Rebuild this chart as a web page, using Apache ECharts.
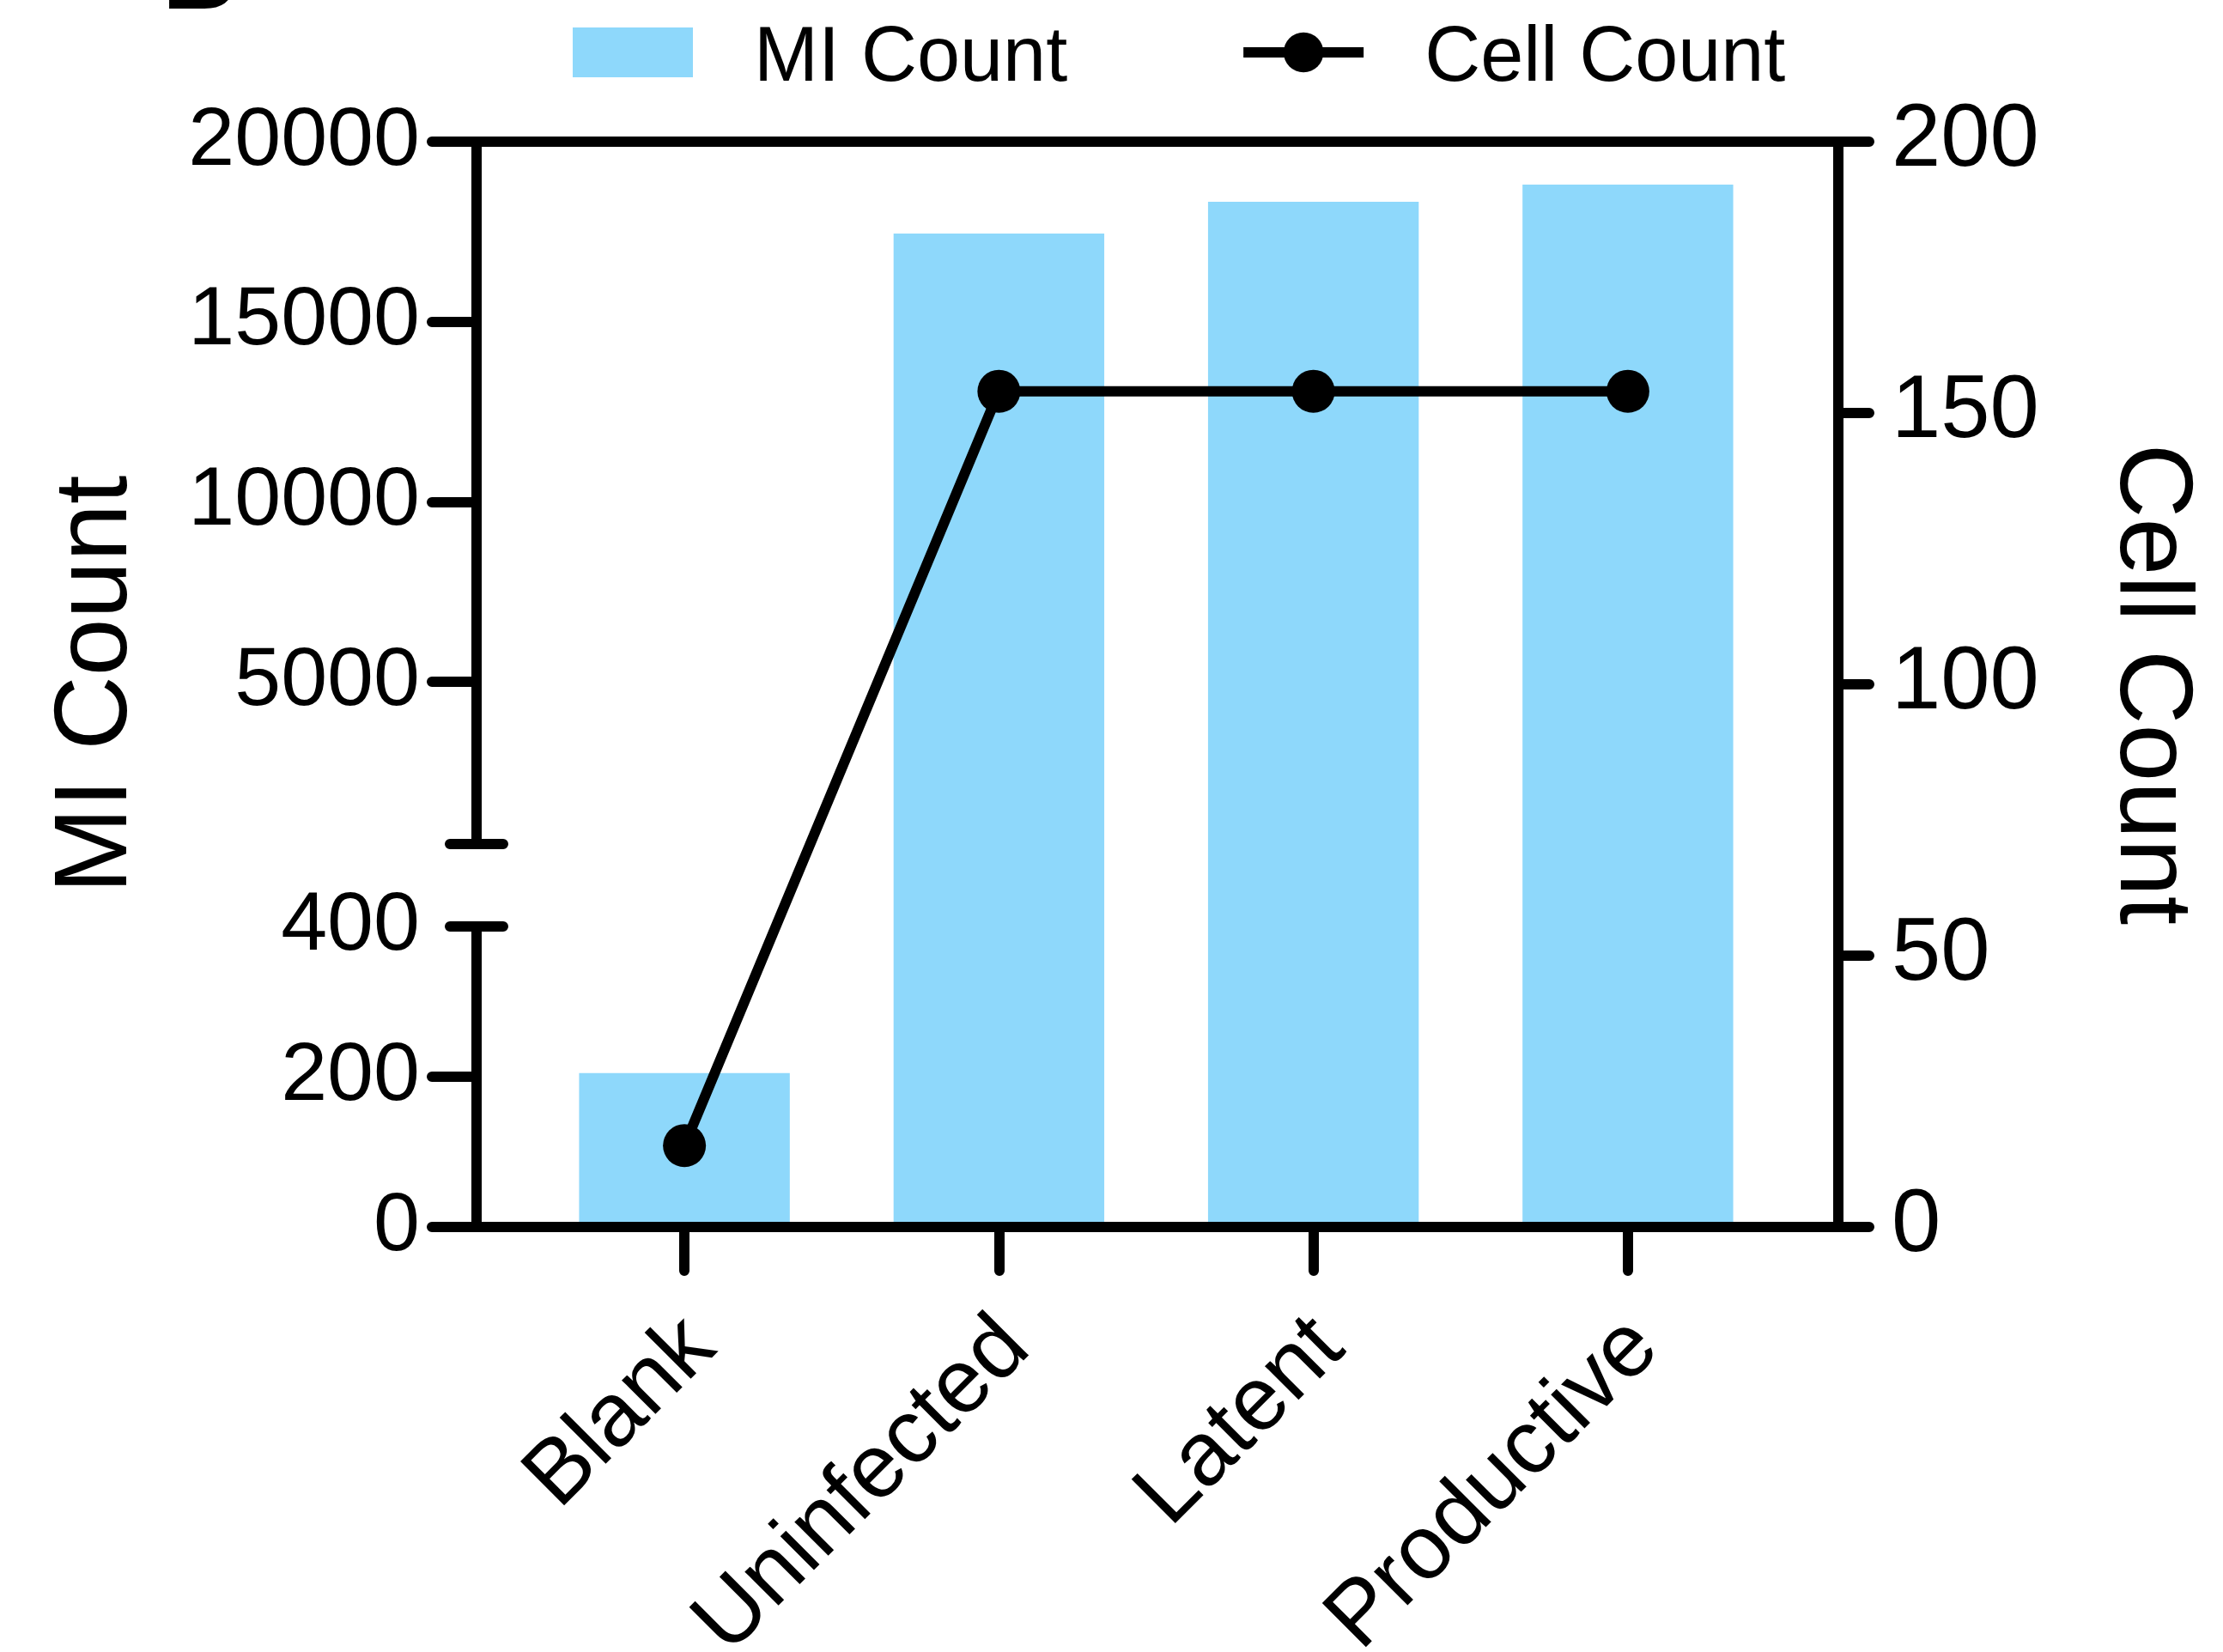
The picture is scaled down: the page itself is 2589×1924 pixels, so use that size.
<!DOCTYPE html>
<html>
<head>
<meta charset="utf-8">
<script src="https://cdn.jsdelivr.net/npm/echarts@6/dist/echarts.min.js"></script>
<style>
html,body{margin:0;padding:0;background:#fff;}
#chart{width:2589px;height:1924px;}
</style>
</head>
<body>
<div id="chart"></div>
<script>
// data
var categories = ['Blank', 'Uninfected', 'Latent', 'Productive'];
var miCount = [205, 17450, 18330, 18810];
var cellCount = [15, 154, 154, 154];
// left axis is broken: 0-400 below, 500-20000 above
var lowTicks = [0, 200];
var lowLabels = [0, 200, 400];
var highTicks = [5000, 10000, 15000, 20000];
var breakMarks = [400, 500];

var FONT = 'Liberation Sans, Arial, Helvetica, sans-serif';
var INK = '#000';
var BAR = '#8ed8fb';

var line12 = {color: INK, width: 12, cap: 'round'};

function plain(v){
	return String(v);
}
function hiddenCat(gi){
	return {gridIndex: gi, type: 'category', data: categories, show: false};
}
// break marks = ticks on both sides of the (invisible) gap axis
function breakAxis(inside){
	return {
		gridIndex: 2, type: 'value', position: 'left', offset: 59,
		min: 400, max: 500,
		axisLine: {show: false, onZero: false},
		axisTick: {show: true, customValues: breakMarks, inside: inside, length: 31, lineStyle: line12},
		axisLabel: {show: false},
		splitLine: {show: false}, z: 10
	};
}

var myChart = echarts.init(document.getElementById('chart'));
var options = {
	backgroundColor: '#fff',
	animation: false,
	textStyle: {fontFamily: FONT, color: INK},
	legend: {
		data: [
			{name: 'MI Count', icon: 'rect'},
			{name: 'Cell Count', lineStyle: {width: 12, color: INK}}
		],
		left: 667, top: 24, padding: 0,
		itemWidth: 140, itemHeight: 58, itemGap: 199,
		selectedMode: false,
		formatter: '{t|{name}}',
		textStyle: {
			fontSize: 90, color: INK, fontFamily: FONT,
			rich: {t: {fontSize: 90, color: INK, fontFamily: FONT, padding: [16, 0, 0, 66]}}
		}
	},
	graphic: [{
		type: 'text', x: 189, y: -23,
		style: {text: 'B', fontSize: 120, fontWeight: 'bold', fontFamily: FONT, fill: INK, verticalAlign: 'middle', align: 'left'}
	}],
	grid: [
		{left: 614, right: 510, top: 165, bottom: 495, outerBoundsMode: 'none'},  // line + x labels + right axis
		{left: 614, right: 510, top: 165, bottom: 941, outerBoundsMode: 'none'},  // upper segment
		{left: 614, right: 510, top: 983, bottom: 845, outerBoundsMode: 'none'},  // gap
		{left: 614, right: 510, top: 1079, bottom: 495, outerBoundsMode: 'none'}, // lower segment
		{left: 555, right: 448, top: 165, bottom: 495, outerBoundsMode: 'none'}   // frame lines
	],
	xAxis: [
		{
			gridIndex: 0, type: 'category', data: categories,
			axisLine: {show: false, onZero: false},
			axisTick: {show: true, alignWithLabel: true, length: 51, lineStyle: line12},
			axisLabel: {interval: 0, rotate: 45, fontSize: 105, color: INK, fontFamily: FONT,
				margin: 105, verticalAlign: 'top', lineHeight: 54},
			z: 10
		},
		hiddenCat(1), hiddenCat(2), hiddenCat(3),
		{gridIndex: 4, type: 'value', min: 0, max: 1, position: 'bottom',
			axisLine: {show: true, onZero: false, lineStyle: line12},
			axisTick: {show: false}, axisLabel: {show: false}, splitLine: {show: false}, z: 10},
		{gridIndex: 4, type: 'value', min: 0, max: 1, position: 'top',
			axisLine: {show: true, onZero: false, lineStyle: line12},
			axisTick: {show: false}, axisLabel: {show: false}, splitLine: {show: false}, z: 10}
	],
	yAxis: [
		{
			gridIndex: 0, type: 'value', position: 'right', offset: 62,
			min: 0, max: 200, interval: 50,
			name: 'Cell Count', nameLocation: 'middle', nameRotate: -90, nameGap: 302,
			nameTextStyle: {fontSize: 120, color: INK, fontFamily: FONT},
			axisLine: {show: true, onZero: false, lineStyle: line12},
			axisTick: {show: true, length: 36, lineStyle: line12},
			axisLabel: {fontSize: 103, color: INK, fontFamily: FONT, margin: 62, formatter: plain},
			splitLine: {show: false}, z: 10
		},
		{
			gridIndex: 0, type: 'value', position: 'left', offset: 59, min: 0, max: 1,
			name: 'MI Count', nameLocation: 'middle', nameRotate: 90, nameGap: 381,
			nameTextStyle: {fontSize: 120, color: INK, fontFamily: FONT},
			axisLine: {show: false, onZero: false}, axisTick: {show: false},
			axisLabel: {show: false}, splitLine: {show: false}
		},
		{
			gridIndex: 1, type: 'value', position: 'left', offset: 59,
			min: 500, max: 20000,
			axisLine: {show: true, onZero: false, lineStyle: line12},
			axisTick: {show: true, customValues: highTicks, length: 52, lineStyle: line12},
			axisLabel: {customValues: highTicks, showMaxLabel: true, fontSize: 97, color: INK, fontFamily: FONT, margin: 66, formatter: plain},
			splitLine: {show: false}, z: 10
		},
		breakAxis(false),
		breakAxis(true),
		{
			gridIndex: 3, type: 'value', position: 'left', offset: 59,
			min: 0, max: 400,
			axisLine: {show: true, onZero: false, lineStyle: line12},
			axisTick: {show: true, customValues: lowTicks, length: 52, lineStyle: line12},
			axisLabel: {customValues: lowLabels, showMaxLabel: true, showMinLabel: true, fontSize: 97, color: INK, fontFamily: FONT, margin: 66, formatter: plain},
			splitLine: {show: false}, z: 10
		},
		{gridIndex: 4, type: 'value', min: 0, max: 1, show: false}
	],
	series: [
		{type: 'bar', name: 'MI Count', xAxisIndex: 1, yAxisIndex: 2, data: miCount, barWidth: '67%', itemStyle: {color: BAR}, z: 2},
		{type: 'bar', name: 'MI Count', xAxisIndex: 2, yAxisIndex: 3, data: miCount, barWidth: '67%', itemStyle: {color: BAR}, z: 2},
		{type: 'bar', name: 'MI Count', xAxisIndex: 3, yAxisIndex: 5, data: miCount, barWidth: '67%', itemStyle: {color: BAR}, z: 2},
		{type: 'line', name: 'Cell Count', xAxisIndex: 0, yAxisIndex: 0, data: cellCount,
			symbol: 'circle', symbolSize: 50,
			lineStyle: {color: INK, width: 12}, itemStyle: {color: INK}, z: 5}
	]
};
myChart.setOption(options);
</script>
</body>
</html>
